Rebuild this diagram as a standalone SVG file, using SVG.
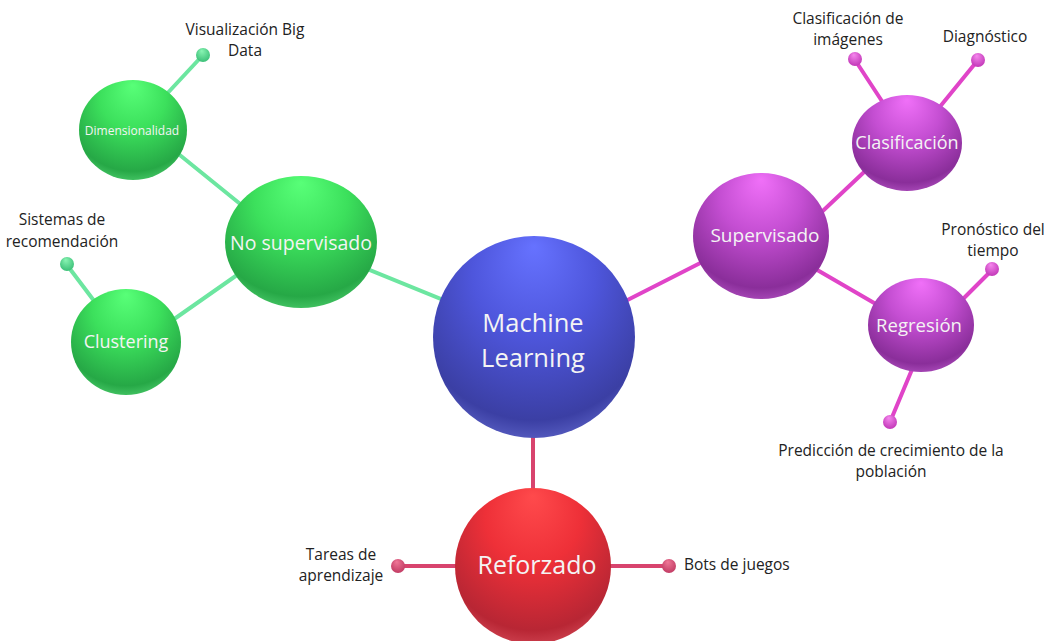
<svg xmlns="http://www.w3.org/2000/svg" width="1051" height="641" viewBox="0 0 1051 641">
  <style>
    .node-text { font-family: "Open Sans", "Noto Sans", sans-serif; fill: #f4f4f4; text-anchor: middle; }
    .leaf-text { font-family: "Open Sans", "Noto Sans", sans-serif; fill: #222222; font-size: 15.5px; text-anchor: middle; }
    .leaf-start { text-anchor: start; }
    .link { stroke-width: 4; stroke-linecap: round; fill: none; }
    .g-link { stroke: #6ce6a0; }
    .p-link { stroke: #e044c8; }
    .r-link { stroke: #d8446e; }
  </style>
  <defs>
    <radialGradient id="sphereBlue" cx="0.5" cy="0.35" r="0.68" fx="0.5" fy="0.05">
      <stop offset="0" stop-color="#6672ff"/>
      <stop offset="0.45" stop-color="#4e56dc"/>
      <stop offset="0.88" stop-color="#3b3fa4"/>
      <stop offset="1" stop-color="#5a60c4"/>
    </radialGradient>
    <radialGradient id="sphereRed" cx="0.5" cy="0.35" r="0.68" fx="0.5" fy="0.05">
      <stop offset="0" stop-color="#ff4a4c"/>
      <stop offset="0.45" stop-color="#ee3038"/>
      <stop offset="0.88" stop-color="#b82634"/>
      <stop offset="1" stop-color="#d04452"/>
    </radialGradient>
    <radialGradient id="sphereGreen" cx="0.5" cy="0.35" r="0.68" fx="0.5" fy="0.05">
      <stop offset="0" stop-color="#58ff78"/>
      <stop offset="0.45" stop-color="#3ce05c"/>
      <stop offset="0.88" stop-color="#26a846"/>
      <stop offset="1" stop-color="#48c868"/>
    </radialGradient>
    <radialGradient id="spherePurple" cx="0.5" cy="0.35" r="0.68" fx="0.5" fy="0.05">
      <stop offset="0" stop-color="#f070f8"/>
      <stop offset="0.45" stop-color="#c44ed2"/>
      <stop offset="0.88" stop-color="#8a2e9a"/>
      <stop offset="1" stop-color="#ac4cbc"/>
    </radialGradient>
    <radialGradient id="dotGreen" cx="0.5" cy="0.4" r="0.6" fx="0.4" fy="0.2">
      <stop offset="0" stop-color="#8af5b4"/>
      <stop offset="1" stop-color="#3cc078"/>
    </radialGradient>
    <radialGradient id="dotPurple" cx="0.5" cy="0.4" r="0.6" fx="0.4" fy="0.2">
      <stop offset="0" stop-color="#f688ee"/>
      <stop offset="1" stop-color="#c238b8"/>
    </radialGradient>
    <radialGradient id="dotRed" cx="0.5" cy="0.4" r="0.6" fx="0.4" fy="0.2">
      <stop offset="0" stop-color="#f07898"/>
      <stop offset="1" stop-color="#c23c64"/>
    </radialGradient>
  </defs>

  <rect width="1051" height="641" fill="#ffffff"/>

  <!-- connectors -->
  <g id="connectors">
    <line class="link g-link" x1="534" y1="337" x2="301" y2="242"/>
    <line class="link g-link" x1="160" y1="139" x2="265" y2="224"/>
    <line class="link g-link" x1="150" y1="336" x2="260" y2="259"/>
    <line class="link g-link" x1="203" y1="55" x2="150" y2="112"/>
    <line class="link g-link" x1="67" y1="265" x2="110" y2="322"/>
    <line class="link p-link" x1="600" y1="314" x2="720" y2="253"/>
    <line class="link p-link" x1="810" y1="223" x2="880" y2="157"/>
    <line class="link p-link" x1="800" y1="260" x2="900" y2="318"/>
    <line class="link p-link" x1="855" y1="60" x2="893" y2="118"/>
    <line class="link p-link" x1="978" y1="60" x2="934" y2="114"/>
    <line class="link p-link" x1="992" y1="270" x2="950" y2="312"/>
    <line class="link p-link" x1="890" y1="422" x2="921" y2="348"/>
    <line class="link r-link" x1="533" y1="400" x2="533" y2="520"/>
    <line class="link r-link" x1="398" y1="566" x2="500" y2="566"/>
    <line class="link r-link" x1="669" y1="566" x2="570" y2="566"/>
  </g>

  <!-- leaf endpoints -->
  <g id="leaf-dots">
    <circle cx="203" cy="55" r="7" fill="url(#dotGreen)"/>
    <circle cx="67" cy="264" r="7" fill="url(#dotGreen)"/>
    <circle cx="855" cy="59" r="7" fill="url(#dotPurple)"/>
    <circle cx="978" cy="60" r="7" fill="url(#dotPurple)"/>
    <circle cx="992" cy="269" r="7" fill="url(#dotPurple)"/>
    <circle cx="890" cy="422" r="7" fill="url(#dotPurple)"/>
    <circle cx="398" cy="566" r="7" fill="url(#dotRed)"/>
    <circle cx="669" cy="566" r="7" fill="url(#dotRed)"/>
  </g>

  <g id="node-machine-learning">
    <ellipse cx="534" cy="337" rx="101" ry="101" fill="url(#sphereBlue)"/>
    <text class="node-text" x="533" y="332" font-size="25.5">Machine</text>
    <text class="node-text" x="533" y="367" font-size="25.5">Learning</text>
  </g>

  <g id="node-reforzado">
    <ellipse cx="533" cy="566" rx="78" ry="78" fill="url(#sphereRed)"/>
    <text class="node-text" x="537" y="574" font-size="25">Reforzado</text>
  </g>

  <g id="node-no-supervisado">
    <ellipse cx="301" cy="242" rx="76" ry="66" fill="url(#sphereGreen)"/>
    <text class="node-text" x="301" y="250" font-size="19.5">No supervisado</text>
  </g>

  <g id="node-dimensionalidad">
    <ellipse cx="133" cy="130" rx="54" ry="50" fill="url(#sphereGreen)"/>
    <text class="node-text" x="132" y="135" font-size="12">Dimensionalidad</text>
  </g>

  <g id="node-clustering">
    <ellipse cx="126" cy="342" rx="55" ry="53" fill="url(#sphereGreen)"/>
    <text class="node-text" x="126" y="348" font-size="18">Clustering</text>
  </g>

  <g id="node-supervisado">
    <ellipse cx="761" cy="236" rx="68" ry="63" fill="url(#spherePurple)"/>
    <text class="node-text" x="765" y="242" font-size="19">Supervisado</text>
  </g>

  <g id="node-clasificacion">
    <ellipse cx="907" cy="143" rx="55" ry="48" fill="url(#spherePurple)"/>
    <text class="node-text" x="907" y="149" font-size="18">Clasificación</text>
  </g>

  <g id="node-regresion">
    <ellipse cx="921" cy="325" rx="53" ry="47" fill="url(#spherePurple)"/>
    <text class="node-text" x="919" y="332" font-size="18.5">Regresión</text>
  </g>

  <!-- leaf labels -->
  <g id="leaf-visualizacion">
    <text class="leaf-text" x="245" y="35">Visualización Big</text>
    <text class="leaf-text" x="245" y="56">Data</text>
  </g>
  <g id="leaf-sistemas">
    <text class="leaf-text" x="62" y="225">Sistemas de</text>
    <text class="leaf-text" x="62" y="247">recomendación</text>
  </g>
  <g id="leaf-clasificacion-imagenes">
    <text class="leaf-text" x="848" y="24">Clasificación de</text>
    <text class="leaf-text" x="848" y="45">imágenes</text>
  </g>
  <g id="leaf-diagnostico">
    <text class="leaf-text" x="985" y="42">Diagnóstico</text>
  </g>
  <g id="leaf-pronostico">
    <text class="leaf-text" x="993" y="235">Pronóstico del</text>
    <text class="leaf-text" x="993" y="256">tiempo</text>
  </g>
  <g id="leaf-prediccion">
    <text class="leaf-text" x="891" y="456">Predicción de crecimiento de la</text>
    <text class="leaf-text" x="891" y="477">población</text>
  </g>
  <g id="leaf-tareas">
    <text class="leaf-text" x="341" y="560">Tareas de</text>
    <text class="leaf-text" x="341" y="581">aprendizaje</text>
  </g>
  <g id="leaf-bots">
    <text class="leaf-text leaf-start" x="684" y="570">Bots de juegos</text>
  </g>
</svg>
